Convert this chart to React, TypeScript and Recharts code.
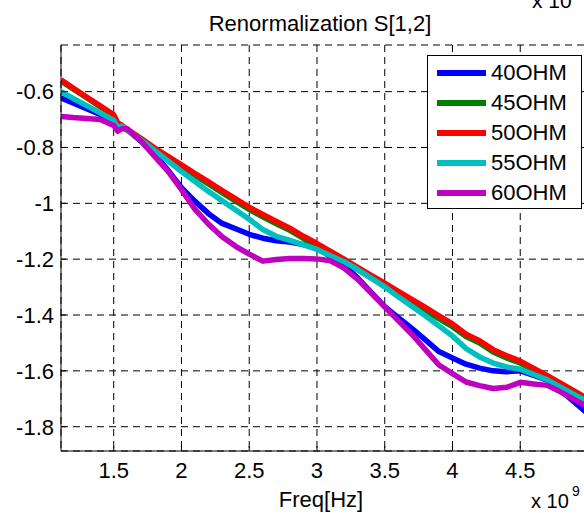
import { CartesianGrid, Legend, Line, LineChart, XAxis, YAxis } from 'recharts';

// frequency in units of 1e9 Hz, S12 values in units of 1e-3
const freq = [
  1.111, 1.2, 1.3, 1.4, 1.5, 1.53, 1.56, 1.6, 1.7, 1.8, 1.9, 2.0, 2.1, 2.2, 2.3, 2.4, 2.5, 2.6, 2.7, 2.8, 2.9,
  3.0, 3.1, 3.2, 3.3, 3.4, 3.5, 3.6, 3.7, 3.8, 3.9, 4.0, 4.1, 4.2, 4.3, 4.4, 4.5, 4.6, 4.7, 4.8, 4.9, 5.0,
];

const ohm40 = [
  -0.623, -0.641, -0.661, -0.682, -0.702, -0.726, -0.723, -0.736, -0.777, -0.824, -0.881, -0.944, -0.993, -1.037,
  -1.072, -1.091, -1.111, -1.125, -1.134, -1.139, -1.148, -1.158, -1.191, -1.223, -1.267, -1.319, -1.37, -1.409,
  -1.448, -1.489, -1.531, -1.554, -1.576, -1.59, -1.6, -1.603, -1.6, -1.616, -1.633, -1.671, -1.712, -1.754,
];

const ohm45 = [
  -0.562, -0.59, -0.622, -0.654, -0.686, -0.717, -0.725, -0.738, -0.771, -0.806, -0.838, -0.869, -0.9, -0.931,
  -0.962, -0.992, -1.022, -1.048, -1.073, -1.097, -1.126, -1.152, -1.18, -1.208, -1.238, -1.267, -1.296, -1.325,
  -1.355, -1.384, -1.413, -1.442, -1.477, -1.5, -1.532, -1.554, -1.572, -1.598, -1.624, -1.651, -1.678, -1.705,
];

const ohm50 = [
  -0.558, -0.587, -0.619, -0.651, -0.683, -0.712, -0.72, -0.735, -0.767, -0.801, -0.832, -0.862, -0.893, -0.923,
  -0.954, -0.984, -1.014, -1.04, -1.065, -1.089, -1.118, -1.144, -1.172, -1.2, -1.229, -1.258, -1.286, -1.315,
  -1.344, -1.373, -1.403, -1.432, -1.469, -1.492, -1.524, -1.546, -1.565, -1.591, -1.617, -1.645, -1.673, -1.701,
];

const ohm55 = [
  -0.6, -0.624, -0.65, -0.676, -0.703, -0.728, -0.724, -0.736, -0.773, -0.81, -0.848, -0.886, -0.922, -0.958,
  -0.991, -1.024, -1.057, -1.094, -1.118, -1.133, -1.149, -1.165, -1.188, -1.209, -1.237, -1.268, -1.299, -1.335,
  -1.369, -1.403, -1.439, -1.475, -1.52, -1.55, -1.572, -1.586, -1.594, -1.613, -1.632, -1.659, -1.685, -1.712,
];

const ohm60 = [
  -0.689, -0.693, -0.696, -0.7, -0.721, -0.742, -0.733, -0.733, -0.776, -0.831, -0.885, -0.951, -1.022, -1.075,
  -1.12, -1.154, -1.182, -1.207, -1.201, -1.198, -1.198, -1.199, -1.206, -1.232, -1.272, -1.321, -1.371, -1.42,
  -1.469, -1.524, -1.579, -1.61, -1.64, -1.653, -1.663, -1.659, -1.641, -1.647, -1.652, -1.676, -1.703, -1.73,
];

const series = [
  { key: 'ohm40', name: '40OHM', values: ohm40, color: '#0000ff' },
  { key: 'ohm45', name: '45OHM', values: ohm45, color: '#008000' },
  { key: 'ohm50', name: '50OHM', values: ohm50, color: '#ff0000' },
  { key: 'ohm55', name: '55OHM', values: ohm55, color: '#00bfbf' },
  { key: 'ohm60', name: '60OHM', values: ohm60, color: '#bf00bf' },
];

const xTicks = [1.5, 2, 2.5, 3, 3.5, 4, 4.5];
const yTicks = [-1.8, -1.6, -1.4, -1.2, -1, -0.8, -0.6];

const data = freq.map((f, i) => {
  const row: Record<string, number> = { freq: f };
  series.forEach((s) => {
    row[s.key] = s.values[i];
  });
  return row;
});

const font = '"Liberation Sans", Arial, Helvetica, sans-serif';
const tickStyle = { fill: '#000', fontSize: 22, fontFamily: font };

function LegendBox() {
  return (
    <div
      style={{
        position: 'relative',
        width: 153,
        height: 152,
        border: '1.5px solid #000',
        background: '#fff',
        fontFamily: font,
      }}
    >
      {series.map((s, i) => (
        <div
          key={s.key}
          style={{ position: 'absolute', left: 9, top: 4 + i * 30, height: 26, display: 'flex', alignItems: 'center' }}
        >
          <div style={{ width: 49, height: 6, background: s.color }} />
          <span style={{ marginLeft: 5, fontSize: 22, lineHeight: '26px', color: '#000' }}>{s.name}</span>
        </div>
      ))}
    </div>
  );
}

export default function App() {
  return (
    <div
      style={{
        position: 'fixed',
        left: 0,
        top: 0,
        width: 584,
        height: 513,
        overflow: 'hidden',
        background: '#fff',
      }}
    >
      <LineChart width={600} height={513} data={data} margin={{ top: 45, right: 12, bottom: 22, left: 0 }}>
        <CartesianGrid stroke="#000" strokeDasharray="7 5" />
        <XAxis
          dataKey="freq"
          type="number"
          domain={[1.111, 5]}
          ticks={xTicks}
          interval={0}
          allowDataOverflow
          height={40}
          tickSize={-5}
          tickMargin={16}
          axisLine={{ stroke: '#000' }}
          tickLine={{ stroke: '#000' }}
          tick={tickStyle}
        />
        <XAxis
          xAxisId="top"
          orientation="top"
          dataKey="freq"
          type="number"
          domain={[1.111, 5]}
          ticks={xTicks}
          interval={0}
          allowDataOverflow
          height={0}
          tickSize={-5}
          axisLine={false}
          tickLine={{ stroke: '#000' }}
          tick={false}
        />
        <YAxis
          type="number"
          domain={[-1.887, -0.433]}
          ticks={yTicks}
          interval={0}
          allowDataOverflow
          width={61}
          tickSize={-5}
          tickMargin={12}
          axisLine={{ stroke: '#000' }}
          tickLine={{ stroke: '#000' }}
          tick={tickStyle}
        />
        <Legend
          layout="vertical"
          align="center"
          verticalAlign="middle"
          wrapperStyle={{ left: 427, top: 55, width: 'auto' }}
          content={() => <LegendBox />}
        />
        {series.map((s) => (
          <Line
            key={s.key}
            dataKey={s.key}
            name={s.name}
            type="linear"
            stroke={s.color}
            strokeWidth={5.5}
            strokeLinejoin="round"
            dot={false}
            isAnimationActive={false}
          />
        ))}
      </LineChart>
      <svg
        width={584}
        height={513}
        style={{ position: 'absolute', left: 0, top: 0, pointerEvents: 'none' }}
        fontFamily={font}
      >
        <text x={320} y={31} textAnchor="middle" fontSize={22} fill="#000">
          Renormalization S[1,2]
        </text>
        <text x={532} y={8} fontSize={21} fill="#000">
          x 10
        </text>
        <text x={574} y={-5} fontSize={15} fill="#000">
          -3
        </text>
        <text x={321} y={507} textAnchor="middle" fontSize={22} fill="#000">
          Freq[Hz]
        </text>
        <text x={531} y={508} fontSize={20} fill="#000">
          x 10
        </text>
        <text x={572} y={496} fontSize={14} fill="#000">
          9
        </text>
      </svg>
    </div>
  );
}
